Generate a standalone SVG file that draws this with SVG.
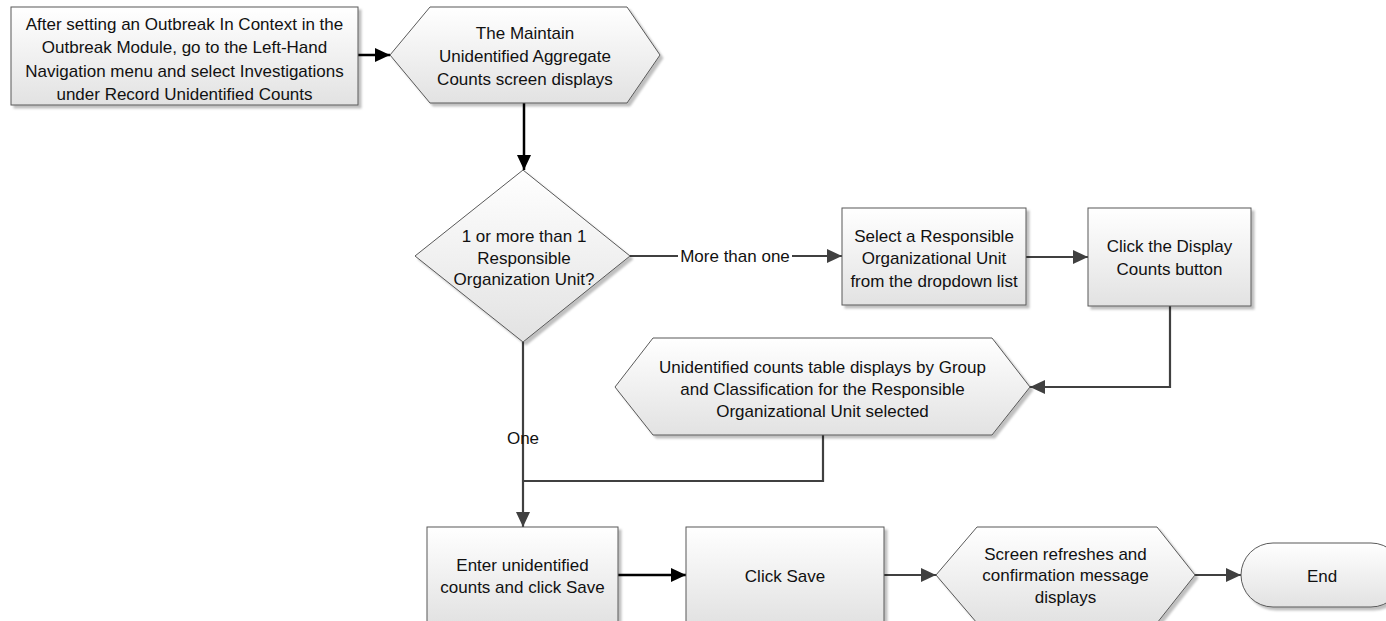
<svg xmlns="http://www.w3.org/2000/svg" width="1386" height="621" viewBox="0 0 1386 621">
<defs>
<linearGradient id="fillGrad" x1="0" y1="0" x2="0" y2="1">
<stop offset="0" stop-color="#ffffff"/>
<stop offset="1" stop-color="#e2e2e2"/>
</linearGradient>
<filter id="shadow" x="-10%" y="-10%" width="130%" height="130%">
<feDropShadow dx="3" dy="3" stdDeviation="1.2" flood-color="#000" flood-opacity="0.25"/>
</filter>
<marker id="arrowBlack" markerUnits="userSpaceOnUse" markerWidth="16" markerHeight="14" refX="15" refY="7" orient="auto">
<path d="M0,0 L15,7 L0,14 z" fill="#000"/>
</marker>
<marker id="arrowGray" markerUnits="userSpaceOnUse" markerWidth="16" markerHeight="14" refX="15" refY="7" orient="auto">
<path d="M0,0 L15,7 L0,14 z" fill="#404040"/>
</marker>
</defs>
<style>
.shape{fill:url(#fillGrad);stroke:#595959;stroke-width:1;filter:url(#shadow);}
.lbl{font-family:"Liberation Sans",Arial,sans-serif;font-size:17px;fill:#111;text-anchor:middle;}
.cb{fill:none;stroke:#000;stroke-width:2.5;}
.cg{fill:none;stroke:#404040;stroke-width:2.2;}
</style>
<rect width="1386" height="621" fill="#fff"/>

<g id="connectors">
<path class="cb" d="M358,55 L390,55" marker-end="url(#arrowBlack)"/>
<path class="cb" d="M524,103 L524,170" marker-end="url(#arrowBlack)"/>
<path class="cg" d="M630,256 L678,256"/>
<path class="cg" d="M792,256 L842,256" marker-end="url(#arrowGray)"/>
<text class="lbl" x="735" y="262">More than one</text>
<path class="cg" d="M1026,257 L1088,257" marker-end="url(#arrowGray)"/>
<path class="cg" d="M1170,306 L1170,387 L1030,387" marker-end="url(#arrowGray)"/>
<path class="cg" d="M823,435 L823,481 L523,481"/>
<path class="cg" d="M523,342 L523,527" marker-end="url(#arrowGray)"/>
<text class="lbl" x="523" y="444">One</text>
<path class="cb" d="M618,575 L686,575" marker-end="url(#arrowBlack)"/>
<path class="cg" d="M884,575 L936,575" marker-end="url(#arrowGray)"/>
<path class="cg" d="M1195,575 L1241,575" marker-end="url(#arrowGray)"/>
</g>

<g id="node-start">
<rect class="shape" x="11" y="7" width="347" height="98"/>
<text class="lbl" x="184.5" y="30">After setting an Outbreak In Context in the</text>
<text class="lbl" x="184.5" y="53.3">Outbreak Module, go to the Left-Hand</text>
<text class="lbl" x="184.5" y="76.7">Navigation menu and select Investigations</text>
<text class="lbl" x="184.5" y="100">under Record Unidentified Counts</text>
</g>

<g id="node-maintain-screen">
<polygon class="shape" points="390,55 430,7 627,7 660,55 627,103 430,103"/>
<text class="lbl" x="525" y="39">The Maintain</text>
<text class="lbl" x="525" y="62">Unidentified Aggregate</text>
<text class="lbl" x="525" y="85">Counts screen displays</text>
</g>

<g id="node-decision">
<polygon class="shape" points="523,170 630,256 523,342 415,256"/>
<text class="lbl" x="524" y="242">1 or more than 1</text>
<text class="lbl" x="524" y="263.5">Responsible</text>
<text class="lbl" x="524" y="285">Organization Unit?</text>
</g>

<g id="node-select-unit">
<rect class="shape" x="842" y="208" width="184" height="97"/>
<text class="lbl" x="934" y="242">Select a Responsible</text>
<text class="lbl" x="934" y="264">Organizational Unit</text>
<text class="lbl" x="934" y="287">from the dropdown list</text>
</g>

<g id="node-display-counts">
<rect class="shape" x="1088" y="208" width="163" height="98"/>
<text class="lbl" x="1169.5" y="252">Click the Display</text>
<text class="lbl" x="1169.5" y="275">Counts button</text>
</g>

<g id="node-table-displays">
<polygon class="shape" points="615,387 653,338 992,338 1030,387 992,435 653,435"/>
<text class="lbl" x="822.5" y="373">Unidentified counts table displays by Group</text>
<text class="lbl" x="822.5" y="395">and Classification for the Responsible</text>
<text class="lbl" x="822.5" y="417">Organizational Unit selected</text>
</g>

<g id="node-enter-counts">
<rect class="shape" x="427" y="527" width="191" height="96"/>
<text class="lbl" x="522.5" y="571">Enter unidentified</text>
<text class="lbl" x="522.5" y="593">counts and click Save</text>
</g>

<g id="node-click-save">
<rect class="shape" x="686" y="527" width="198" height="96"/>
<text class="lbl" x="785" y="582">Click Save</text>
</g>

<g id="node-refresh">
<polygon class="shape" points="936,575 977,527 1157,527 1195,575 1157,623 977,623"/>
<text class="lbl" x="1065.5" y="560">Screen refreshes and</text>
<text class="lbl" x="1065.5" y="581">confirmation message</text>
<text class="lbl" x="1065.5" y="603">displays</text>
</g>

<g id="node-end">
<rect class="shape" x="1241" y="543" width="162" height="64" rx="32" ry="32"/>
<text class="lbl" x="1322" y="582">End</text>
</g>
</svg>
